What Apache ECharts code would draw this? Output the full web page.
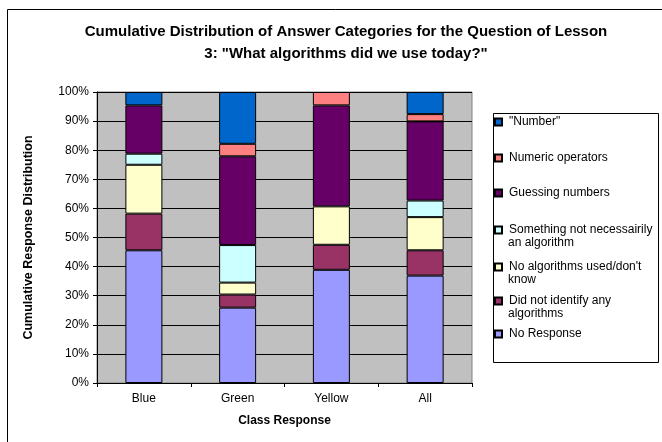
<!DOCTYPE html>
<html>
<head>
<meta charset="utf-8">
<script src="https://cdn.jsdelivr.net/npm/echarts@6/dist/echarts.min.js"></script>
<style>
  html, body { margin: 0; padding: 0; background: #fff; }
  #main { width: 662px; height: 442px; }
</style>
</head>
<body>
<div id="main"></div>
<script>
// categories along the x axis
var classes = ['Blue', 'Green', 'Yellow', 'All'];

// percent of responses per category, stacked bottom to top
var noResponse      = [45.6, 25.9, 38.9, 36.9];
var didNotIdentify  = [12.6, 4.5, 8.6, 8.7];
var noAlgorithms    = [16.8, 4.1, 13.2, 11.4];
var somethingNot    = [3.8, 12.9, 0, 5.7];
var guessing        = [16.6, 30.5, 34.7, 27.2];
var numericOps      = [0, 4.3, 4.6, 2.5];
var numberWord      = [4.6, 17.8, 0, 7.6];

var seriesNames = ['No Response', 'Did not identify any algorithms', 'No algorithms used/don\'t know',
  'Something not necessairily an algorithm', 'Guessing numbers', 'Numeric operators', '"Number"'];
var seriesValues = [noResponse, didNotIdentify, noAlgorithms, somethingNot, guessing, numericOps, numberWord];
var seriesColors = ['#9999FF', '#993366', '#FFFFCC', '#CCFFFF', '#660066', '#FF8080', '#0066CC'];

// how the legend breaks long names
var legendLines = {
  'Something not necessairily an algorithm': ['Something not necessairily', 'an algorithm'],
  'No algorithms used/don\'t know': ['No algorithms used/don\'t', 'know'],
  'Did not identify any algorithms': ['Did not identify any', 'algorithms']
};
var legendOrder = ['"Number"', 'Numeric operators', 'Guessing numbers', 'Something not necessairily an algorithm',
  'No algorithms used/don\'t know', 'Did not identify any algorithms', 'No Response'];
var legendTops = [122, 158, 193, 230, 267, 301, 334];

var font = 'Arial, "Liberation Sans", sans-serif';
var chart = echarts.init(document.getElementById('main'));

var legends = [];
var graphics = [
  { type: 'rect', shape: { x: 7.5, y: 9.5, width: 700, height: 500 }, style: { fill: 'none', stroke: '#000', lineWidth: 1 }, silent: true },
  { type: 'rect', shape: { x: 493.5, y: 113.5, width: 165, height: 249 }, style: { fill: '#fff', stroke: '#000', lineWidth: 1 }, silent: true, z: -1 }
];
legendOrder.forEach(function (name, i) {
  var lines = legendLines[name] || [name];
  legends.push({
    data: [name],
    left: 494,
    top: legendTops[i] - 6,
    padding: 0,
    itemWidth: 7,
    itemHeight: 7,
    itemGap: 0,
    icon: 'rect',
    selectedMode: false,
    formatter: function () { return lines[0]; },
    textStyle: { fontFamily: font, fontSize: 12, color: '#000', padding: [0, 0, 0, 2] }
  });
  if (lines[1]) {
    graphics.push({
      type: 'text', left: 508, top: legendTops[i] + 7,
      style: { text: lines[1], font: '12px ' + font, fill: '#000' }
    });
  }
});

chart.setOption({
  animation: false,
  backgroundColor: '#fff',
  title: {
    text: 'Cumulative Distribution of Answer Categories for the Question of Lesson\n3: "What algorithms did we use today?"',
    left: 341,
    textAlign: 'center',
    top: 16,
    textStyle: { fontFamily: font, fontSize: 15, fontWeight: 'bold', color: '#000', lineHeight: 22 }
  },
  legend: legends,
  graphic: graphics,
  grid: { left: 97, right: 190, top: 92, bottom: 59, show: true, backgroundColor: '#C0C0C0', borderColor: '#808080', borderWidth: 1 },
  xAxis: {
    type: 'category',
    data: classes,
    name: 'Class Response',
    nameLocation: 'middle',
    nameGap: 32,
    nameTextStyle: { fontFamily: font, fontSize: 12, fontWeight: 'bold', color: '#000' },
    axisLine: { lineStyle: { color: '#000' } },
    axisTick: { show: true, lineStyle: { color: '#000' }, length: 4 },
    axisLabel: { fontFamily: font, fontSize: 12, color: '#000', margin: 10 }
  },
  yAxis: {
    type: 'value',
    min: 0,
    max: 100,
    interval: 10,
    name: 'Cumulative Response Distribution',
    nameLocation: 'middle',
    nameGap: 62,
    nameTextStyle: { fontFamily: font, fontSize: 12.5, fontWeight: 'bold', color: '#000' },
    axisLine: { show: true, lineStyle: { color: '#000' } },
    axisTick: { show: true, inside: false, length: 4, lineStyle: { color: '#000' } },
    axisLabel: { fontFamily: font, fontSize: 12, color: '#000', margin: 8, formatter: '{value}%' },
    splitLine: { lineStyle: { color: '#000', width: 1 } }
  },
  series: seriesNames.map(function (name, i) {
    return {
      name: name,
      type: 'bar',
      stack: 'total',
      barWidth: 37,
      itemStyle: { color: seriesColors[i], borderColor: '#000', borderWidth: 1 },
      data: seriesValues[i].map(function (v) { return v === 0 ? '-' : v; })
    };
  })
});
</script>
</body>
</html>
